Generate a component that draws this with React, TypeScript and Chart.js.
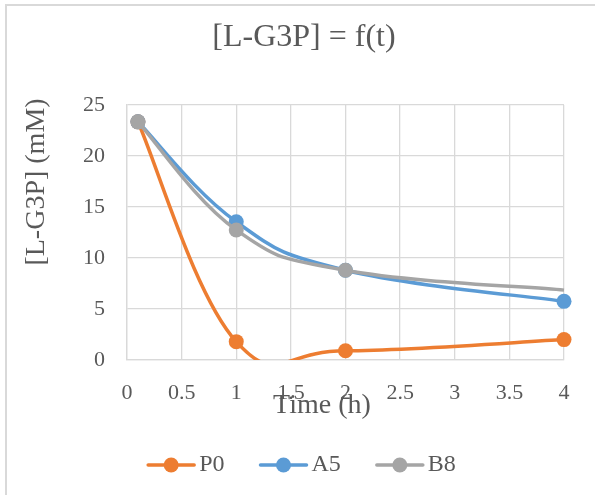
import React, { useEffect, useRef } from "react";
import { Chart, registerables } from "chart.js";

Chart.register(...registerables);

const TITLE = "[L-G3P] = f(t)";
const X_TITLE = "Time (h)";
const Y_TITLE = "[L-G3P] (mM)";
const TIMES = [0.1, 1, 2, 4];
const P0 = [23.35, 1.8, 0.9, 2.0];
const A5 = [23.35, 13.55, 8.8, 5.75];
const B8 = [23.35, 12.75, 8.8, 6.85];
const SERIES_NAMES = ["P0", "A5", "B8"];
const COLORS = ["#ED7D31", "#5B9BD5", "#A5A5A5"];
const B8_RADII = [7.5, 7.5, 7.5, 0];

const FONT = "'Liberation Serif', 'Times New Roman', serif";
const TEXT = "#595959";
const GRID = "#d9d9d9";
const SMOOTH = 0.2;

const framePlugin = {
  id: "frame",
  beforeDraw(chart: any) {
    const ctx = chart.ctx;
    ctx.save();
    ctx.fillStyle = "#ffffff";
    ctx.fillRect(0, 0, chart.width, chart.height);
    ctx.strokeStyle = GRID;
    ctx.lineWidth = 2;
    ctx.strokeRect(6, 5, chart.width + 20, chart.height + 20);
    ctx.restore();
  },
};

// Excel-like (uniform Catmull-Rom) smoothing of the line path
const smoothPlugin = {
  id: "excelSmooth",
  beforeDatasetDraw(chart: any, args: any) {
    const meta = args.meta;
    const line = meta.dataset;
    const pts = meta.data;
    if (!line || !pts || !pts.length) return;
    if (typeof line.updateControlPoints === "function") {
      line.updateControlPoints(chart.chartArea, "x");
    }
    const n = pts.length;
    for (let i = 0; i < n; i++) {
      const p = pts[i];
      const prev = pts[Math.max(0, i - 1)];
      const next = pts[Math.min(n - 1, i + 1)];
      const tx = (next.x - prev.x) * SMOOTH;
      const ty = (next.y - prev.y) * SMOOTH;
      p.cp1x = p.x - tx;
      p.cp1y = p.y - ty;
      p.cp2x = p.x + tx;
      p.cp2y = p.y + ty;
    }
    line._path = undefined;
  },
};

const titlesPlugin = {
  id: "titles",
  afterDraw(chart: any) {
    const ctx = chart.ctx;
    ctx.save();
    ctx.fillStyle = TEXT;
    ctx.textAlign = "center";
    ctx.textBaseline = "middle";
    ctx.font = `32px ${FONT}`;
    ctx.fillText(TITLE, 304, 38);
    ctx.font = `28px ${FONT}`;
    ctx.fillText(X_TITLE, 322, 406);
    ctx.translate(37, 182);
    ctx.rotate(-Math.PI / 2);
    ctx.fillText(Y_TITLE, 0, 0);
    ctx.restore();
  },
};

const legendPlugin = {
  id: "customLegend",
  afterDraw(chart: any) {
    const ctx = chart.ctx;
    const ds = chart.data.datasets;
    ctx.save();
    ctx.font = `24px ${FONT}`;
    const lineW = 50;
    const gapText = 3;
    const gapItem = 34;
    const widths = ds.map((d: any) => ctx.measureText(d.label).width);
    const total =
      widths.reduce((a: number, b: number) => a + b, 0) +
      ds.length * (lineW + gapText) +
      (ds.length - 1) * gapItem;
    let x = 301 - total / 2;
    const y = 465;
    ds.forEach((d: any, i: number) => {
      ctx.strokeStyle = d.borderColor;
      ctx.lineWidth = 3.5;
      ctx.lineCap = "round";
      ctx.beginPath();
      ctx.moveTo(x + 2, y);
      ctx.lineTo(x + lineW - 2, y);
      ctx.stroke();
      ctx.fillStyle = d.borderColor;
      ctx.beginPath();
      ctx.arc(x + lineW / 2, y, 7.5, 0, Math.PI * 2);
      ctx.fill();
      ctx.fillStyle = TEXT;
      ctx.textBaseline = "middle";
      ctx.textAlign = "left";
      ctx.fillText(d.label, x + lineW + gapText, y);
      x += lineW + gapText + widths[i] + gapItem;
    });
    ctx.restore();
  },
};

export default function App() {
  const ref = useRef<HTMLCanvasElement | null>(null);

  useEffect(() => {
    if (!ref.current) return;
    const mk = (vals: number[]) => TIMES.map((t, i) => ({ x: t, y: vals[i] }));
    const series = [P0, A5, B8];
    const chart = new Chart(ref.current, {
      type: "line",
      data: {
        datasets: series.map((vals, i) => ({
          label: SERIES_NAMES[i],
          data: mk(vals),
          borderColor: COLORS[i],
          backgroundColor: COLORS[i],
          pointBackgroundColor: COLORS[i],
          pointBorderColor: COLORS[i],
          borderWidth: 3.5,
          pointRadius: i === 2 ? B8_RADII : 7.5,
          pointBorderWidth: 0,
          tension: 0.4,
          fill: false,
          clip: { left: 12, top: 12, right: 12, bottom: 0 },
          order: 3 - i,
        })),
      },
      options: {
        responsive: false,
        animation: false,
        events: [],
        layout: { padding: { left: 0, right: 31, top: 105, bottom: 74 } },
        elements: { line: { capBezierPoints: false } },
        plugins: {
          legend: { display: false },
          tooltip: { enabled: false },
          title: { display: false },
        },
        scales: {
          x: {
            type: "linear",
            min: 0,
            max: 4,
            ticks: {
              stepSize: 0.5,
              color: TEXT,
              font: { family: FONT, size: 22 },
              padding: 20,
              maxRotation: 0,
              autoSkip: false,
              callback: (v: any) => String(Number(v)),
            },
            grid: { color: GRID, lineWidth: 1.3, drawTicks: false },
            border: { color: GRID, width: 1.3 },
            afterFit(scale: any) {
              scale.height = 61;
            },
          },
          y: {
            min: 0,
            max: 25,
            ticks: {
              stepSize: 5,
              color: TEXT,
              font: { family: FONT, size: 22 },
              padding: 22,
            },
            grid: { color: GRID, lineWidth: 1.3, drawTicks: false },
            border: { color: GRID, width: 1.3 },
            afterFit(scale: any) {
              scale.width = 127;
            },
          },
        },
      },
      plugins: [framePlugin, smoothPlugin, titlesPlugin, legendPlugin],
    } as any);
    return () => chart.destroy();
  }, []);

  return (
    <div style={{ position: "fixed", left: 0, top: 0, width: 595, height: 495 }}>
      <canvas ref={ref} width={595} height={495} />
    </div>
  );
}
